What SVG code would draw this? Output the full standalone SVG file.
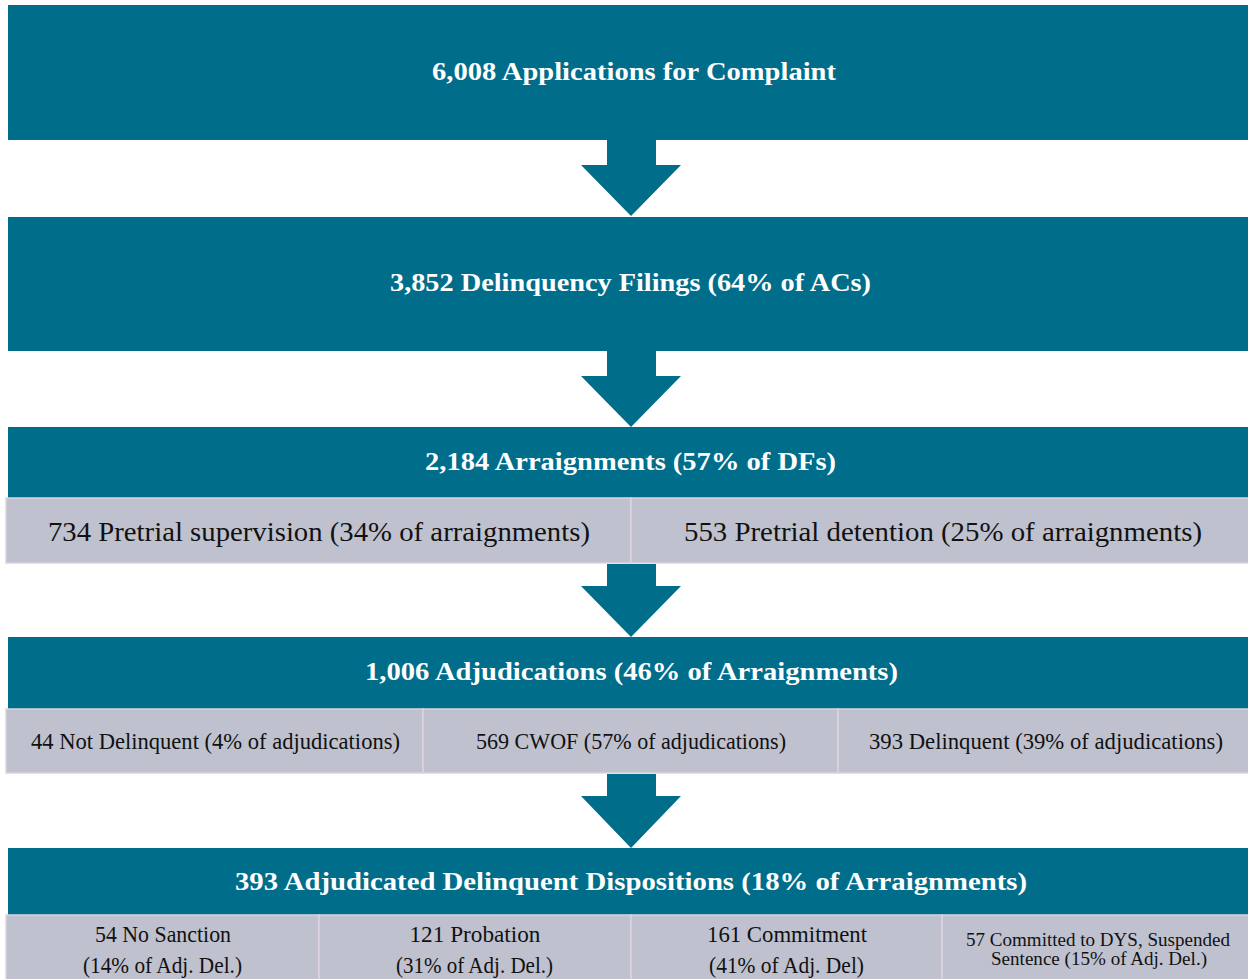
<svg xmlns="http://www.w3.org/2000/svg" width="1248" height="979" viewBox="0 0 1248 979">
<defs>
<style>
.hdr{fill:#006D8B}
.cell{fill:#BFC1CF;stroke:#DCD3DF;stroke-width:1.5}
.arr{fill:#006D8B}
.th{font-family:"Liberation Serif","DejaVu Serif",serif;font-weight:bold;fill:#FFFFFF;text-anchor:middle;font-size:25.5px}
.tc{font-family:"Liberation Serif","DejaVu Serif",serif;fill:#111111;text-anchor:middle}
</style>
</defs>
<rect width="1248" height="979" fill="#FFFFFF"/>
<g id="connectors">
<polygon class="arr" points="607,140 656,140 656,165 681,165 631,216 581,165 607,165"/>
<polygon class="arr" points="607,351 656,351 656,376 681,376 631,427 581,376 607,376"/>
<polygon class="arr" points="607,564 656,564 656,586 681,586 631,637 581,586 607,586"/>
<polygon class="arr" points="607,774 656,774 656,796 681,796 631,848 581,796 607,796"/>
</g>
<g id="applications">
<rect class="hdr" x="8" y="5" width="1240" height="135"/>
<text class="th" x="634" y="80" textLength="404" lengthAdjust="spacingAndGlyphs">6,008 Applications for Complaint</text>
</g>
<g id="filings">
<rect class="hdr" x="8" y="217" width="1240" height="134"/>
<text class="th" x="630.5" y="291" textLength="481" lengthAdjust="spacingAndGlyphs">3,852 Delinquency Filings (64% of ACs)</text>
</g>
<g id="arraignments">
<rect class="hdr" x="8" y="427" width="1240" height="71"/>
<text class="th" x="630.5" y="470" textLength="411" lengthAdjust="spacingAndGlyphs">2,184 Arraignments (57% of DFs)</text>
</g>
<g id="pretrial-supervision">
<rect class="cell" x="6" y="498" width="625" height="65"/>
<text class="tc" x="319" y="541" font-size="27.5" textLength="542" lengthAdjust="spacingAndGlyphs">734 Pretrial supervision (34% of arraignments)</text>
</g>
<g id="pretrial-detention">
<rect class="cell" x="631" y="498" width="618" height="65"/>
<text class="tc" x="943" y="541" font-size="27.5" textLength="518" lengthAdjust="spacingAndGlyphs">553 Pretrial detention (25% of arraignments)</text>
</g>
<g id="adjudications">
<rect class="hdr" x="8" y="637" width="1240" height="72"/>
<text class="th" x="631.5" y="680" textLength="533" lengthAdjust="spacingAndGlyphs">1,006 Adjudications (46% of Arraignments)</text>
</g>
<g id="not-delinquent">
<rect class="cell" x="6" y="709" width="417" height="64"/>
<text class="tc" x="215.5" y="749" font-size="23" textLength="369" lengthAdjust="spacingAndGlyphs">44 Not Delinquent (4% of adjudications)</text>
</g>
<g id="cwof">
<rect class="cell" x="423" y="709" width="415" height="64"/>
<text class="tc" x="631" y="749" font-size="23" textLength="310" lengthAdjust="spacingAndGlyphs">569 CWOF (57% of adjudications)</text>
</g>
<g id="delinquent">
<rect class="cell" x="838" y="709" width="411" height="64"/>
<text class="tc" x="1046" y="749" font-size="23" textLength="354" lengthAdjust="spacingAndGlyphs">393 Delinquent (39% of adjudications)</text>
</g>
<g id="dispositions">
<rect class="hdr" x="8" y="848" width="1240" height="67"/>
<text class="th" x="631" y="890" textLength="792" lengthAdjust="spacingAndGlyphs">393 Adjudicated Delinquent Dispositions (18% of Arraignments)</text>
</g>
<g id="no-sanction">
<rect class="cell" x="6" y="915" width="313" height="66"/>
<text class="tc" x="163" y="942" font-size="23" textLength="136" lengthAdjust="spacingAndGlyphs">54 No Sanction</text>
<text class="tc" x="162.5" y="973" font-size="23" textLength="159" lengthAdjust="spacingAndGlyphs">(14% of Adj. Del.)</text>
</g>
<g id="probation">
<rect class="cell" x="319" y="915" width="312" height="66"/>
<text class="tc" x="475" y="942" font-size="23" textLength="131" lengthAdjust="spacingAndGlyphs">121 Probation</text>
<text class="tc" x="474.5" y="973" font-size="23" textLength="157" lengthAdjust="spacingAndGlyphs">(31% of Adj. Del.)</text>
</g>
<g id="commitment">
<rect class="cell" x="631" y="915" width="311" height="66"/>
<text class="tc" x="787" y="942" font-size="23" textLength="160" lengthAdjust="spacingAndGlyphs">161 Commitment</text>
<text class="tc" x="786.5" y="973" font-size="23" textLength="155" lengthAdjust="spacingAndGlyphs">(41% of Adj. Del)</text>
</g>
<g id="suspended">
<rect class="cell" x="942" y="915" width="307" height="66"/>
<text class="tc" x="1098" y="946" font-size="19" textLength="264" lengthAdjust="spacingAndGlyphs">57 Committed to DYS, Suspended</text>
<text class="tc" x="1099" y="965" font-size="19" textLength="216" lengthAdjust="spacingAndGlyphs">Sentence (15% of Adj. Del.)</text>
</g>
</svg>
